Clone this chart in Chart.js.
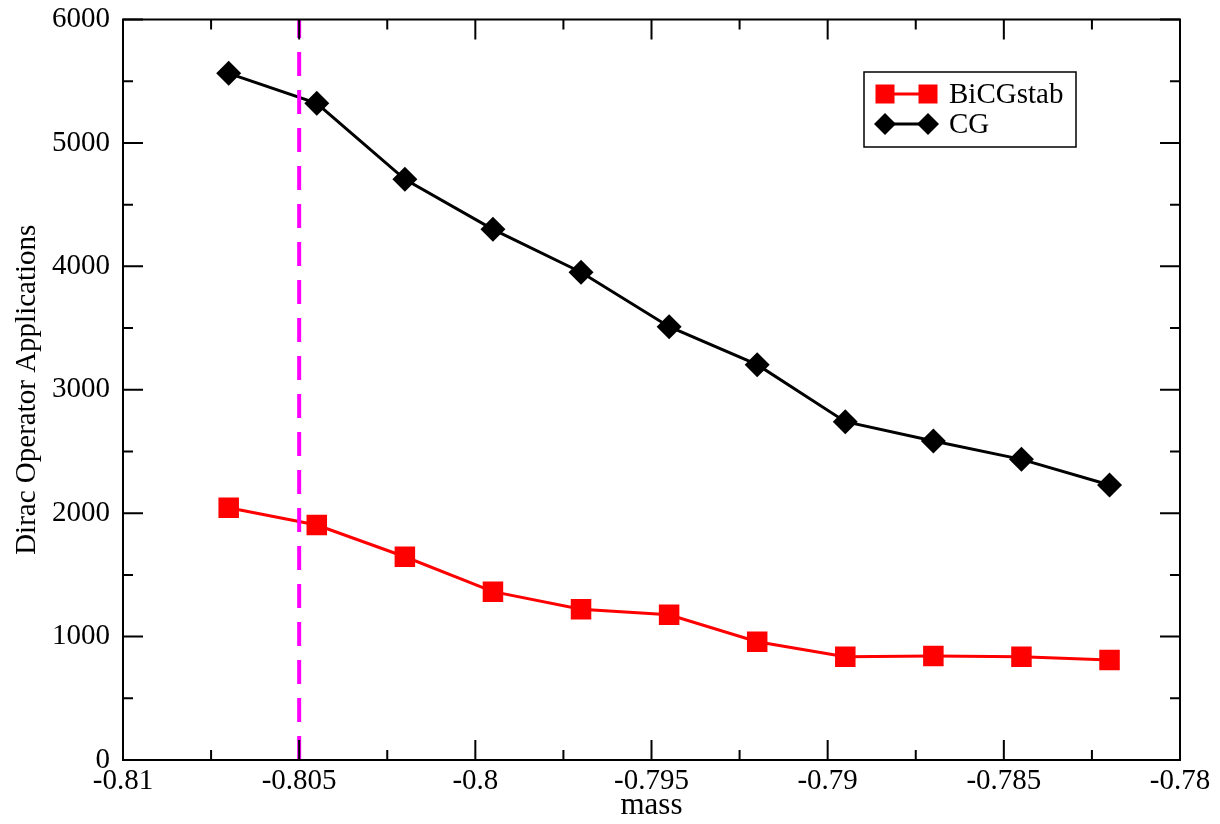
<!DOCTYPE html>
<html>
<head>
<meta charset="utf-8">
<script src="https://cdn.jsdelivr.net/npm/chart.js"></script>
<style>
  body { margin: 0; background: #fff; }
  #wrap { width: 1220px; height: 824px; position: relative; }
</style>
</head>
<body>
<div id="wrap"><canvas id="myChart"></canvas></div>
<script>
// data
const masses = [-0.807, -0.8045, -0.802, -0.7995, -0.797, -0.7945, -0.792, -0.7895, -0.787, -0.7845, -0.782];
const bicgstab = [2044, 1904, 1647, 1364, 1221, 1177, 958, 837, 843, 837, 810];
const cg = [5564, 5321, 4705, 4300, 3952, 3511, 3203, 2741, 2585, 2436, 2228];

// vertical marker at the critical mass
const markX = [-0.805, -0.805];
const markY = [0, 6000];

// tick labels
const xTicks = [-0.81, -0.805, -0.8, -0.795, -0.79, -0.785, -0.78];
const yTicks = [0, 1000, 2000, 3000, 4000, 5000, 6000];

const FONT = "'Liberation Serif', 'Times New Roman', serif";

const toPts = (xs, ys) => xs.map((v, i) => ({x: v, y: ys[i]}));

// frame with inward ticks on all 4 sides (xmgrace style)
const frameTicks = {
  id: 'frameTicks',
  afterDatasetsDraw(chart) {
    const {ctx, chartArea: a, scales: {x, y}} = chart;
    ctx.save();
    ctx.strokeStyle = '#000';
    ctx.lineWidth = 2;
    ctx.strokeRect(a.left, a.top, a.width, a.height);
    ctx.beginPath();
    xTicks.forEach((v, i) => {
      const px = x.getPixelForValue(v);
      ctx.moveTo(px, a.bottom); ctx.lineTo(px, a.bottom - 20);
      ctx.moveTo(px, a.top); ctx.lineTo(px, a.top + 20);
      if (i < xTicks.length - 1) {
        const m = x.getPixelForValue((v + xTicks[i + 1]) / 2);
        ctx.moveTo(m, a.bottom); ctx.lineTo(m, a.bottom - 10);
        ctx.moveTo(m, a.top); ctx.lineTo(m, a.top + 10);
      }
    });
    yTicks.forEach((v, i) => {
      const py = y.getPixelForValue(v);
      ctx.moveTo(a.left, py); ctx.lineTo(a.left + 20, py);
      ctx.moveTo(a.right, py); ctx.lineTo(a.right - 20, py);
      if (i < yTicks.length - 1) {
        const m = y.getPixelForValue((v + yTicks[i + 1]) / 2);
        ctx.moveTo(a.left, m); ctx.lineTo(a.left + 10, m);
        ctx.moveTo(a.right, m); ctx.lineTo(a.right - 10, m);
      }
    });
    ctx.stroke();
    ctx.restore();
  }
};

// legend box: line with a marker on each end, like the original
const boxLegend = {
  id: 'boxLegend',
  afterDraw(chart) {
    const ctx = chart.ctx;
    const bx = 864, by = 72, bw = 212, bh = 75;
    ctx.save();
    ctx.fillStyle = '#fff';
    ctx.fillRect(bx, by, bw, bh);
    ctx.strokeStyle = '#000';
    ctx.lineWidth = 1.5;
    ctx.strokeRect(bx, by, bw, bh);
    const rows = chart.data.datasets.filter(d => d.label);
    rows.forEach((d, i) => {
      const cy = 94 + i * 30;
      ctx.strokeStyle = d.borderColor;
      ctx.lineWidth = 3;
      ctx.beginPath();
      ctx.moveTo(885, cy); ctx.lineTo(928, cy);
      ctx.stroke();
      ctx.fillStyle = d.backgroundColor;
      [885, 928].forEach(mx => {
        if (d.pointStyle === 'rect') {
          ctx.fillRect(mx - 9.5, cy - 9.5, 19, 19);
        } else {
          ctx.beginPath();
          ctx.moveTo(mx - 11, cy); ctx.lineTo(mx, cy - 11);
          ctx.lineTo(mx + 11, cy); ctx.lineTo(mx, cy + 11);
          ctx.closePath();
          ctx.fill();
        }
      });
      ctx.fillStyle = '#000';
      ctx.font = '29px ' + FONT;
      ctx.textBaseline = 'middle';
      ctx.textAlign = 'left';
      ctx.fillText(d.label, 949, cy + 1);
    });
    ctx.restore();
  }
};

const ctx = document.getElementById('myChart');

new Chart(ctx, {
  type: 'line',
  data: {
    datasets: [
      {
        data: toPts(markX, markY),
        borderColor: '#ff00ff',
        borderWidth: 4,
        borderDash: [24, 14],
        pointRadius: 0
      },
      {
        label: 'BiCGstab',
        data: toPts(masses, bicgstab),
        borderColor: '#ff0000',
        backgroundColor: '#ff0000',
        borderWidth: 3,
        pointStyle: 'rect',
        pointRadius: 14.5,
        pointBorderWidth: 0
      },
      {
        label: 'CG',
        data: toPts(masses, cg),
        borderColor: '#000000',
        backgroundColor: '#000000',
        borderWidth: 3,
        pointStyle: 'rectRot',
        pointRadius: 12.5,
        pointBorderWidth: 0
      }
    ]
  },
  options: {
    responsive: true,
    maintainAspectRatio: false,
    animation: false,
    layout: { padding: { top: 19.5, right: 40, left: 0, bottom: 0 } },
    plugins: {
      legend: { display: false },
      tooltip: { enabled: false }
    },
    elements: { line: { tension: 0 } },
    scales: {
      x: {
        type: 'linear',
        min: -0.81,
        max: -0.78,
        grid: { display: false, drawTicks: true, tickLength: 4 },
        border: { display: false },
        afterBuildTicks: s => { s.ticks = xTicks.map(v => ({value: v})); },
        afterFit: s => { s.height = 64; },
        ticks: {
          padding: 0,
          maxRotation: 0,
          color: '#000',
          font: { family: FONT, size: 29 },
          callback: v => String(Number(v.toFixed(3)))
        },
        title: {
          display: true,
          text: 'mass',
          color: '#000',
          font: { family: FONT, size: 31 },
          padding: { top: 0, bottom: 0 }
        }
      },
      y: {
        min: 0,
        max: 6000,
        grid: { display: false, drawTicks: true, tickLength: 13 },
        border: { display: false },
        afterBuildTicks: s => { s.ticks = yTicks.map(v => ({value: v})); },
        afterFit: s => { s.width = 123; },
        ticks: {
          padding: 0,
          color: '#000',
          font: { family: FONT, size: 29 },
          callback: v => String(v)
        },
        title: {
          display: true,
          text: 'Dirac Operator Applications',
          color: '#000',
          font: { family: FONT, size: 29 },
          padding: { top: 10, bottom: 0 }
        }
      }
    }
  },
  plugins: [frameTicks, boxLegend]
});
</script>
</body>
</html>
